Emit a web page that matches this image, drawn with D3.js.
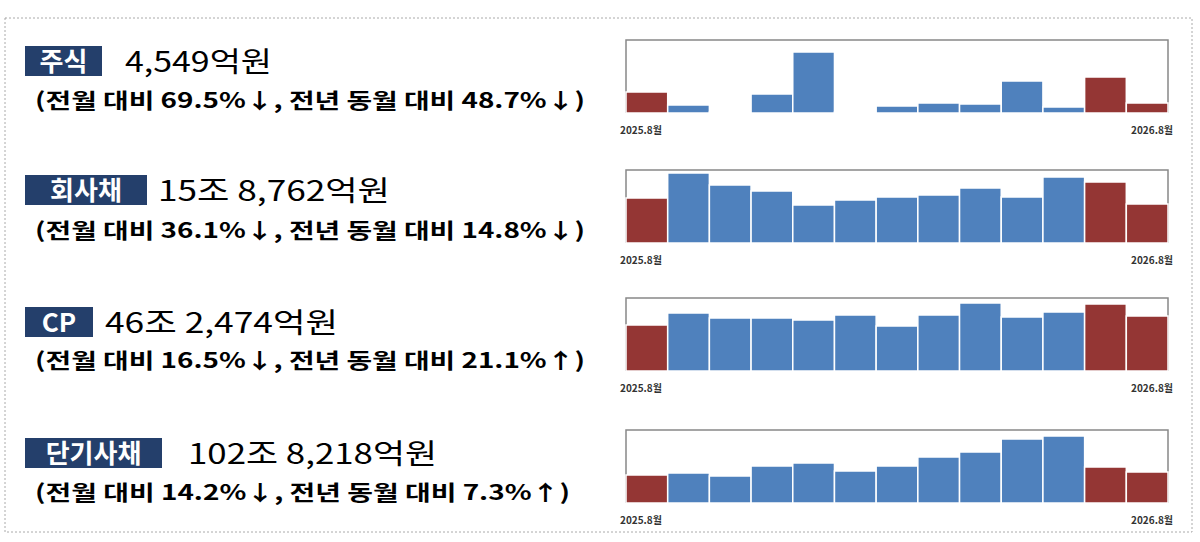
<!DOCTYPE html><html><head><meta charset="utf-8"><script src="https://cdn.jsdelivr.net/npm/d3@7"></script>
<style>body{margin:0;background:#fff}</style></head><body><svg id="c" width="1200" height="542"></svg><script>
const months=["2025.8","2025.9","2025.10","2025.11","2025.12","2026.1","2026.2","2026.3","2026.4","2026.5","2026.6","2026.7","2026.8"];
const tickLabels=["2025.8월","2026.8월"];
const names=["주식","회사채","CP","단기사채"];
const amounts=["4,549억원","15조 8,762억원","46조 2,474억원","102조 8,218억원"];
const notes=["(전월 대비 69.5%↓, 전년 동월 대비 48.7%↓)","(전월 대비 36.1%↓, 전년 동월 대비 14.8%↓)","(전월 대비 16.5%↓, 전년 동월 대비 21.1%↑)","(전월 대비 14.2%↓, 전년 동월 대비 7.3%↑)"];
const stock=[21,8,1,19,61,1,7,10,9,32,6,36,10];
const bond=[45,70,58,52,38,43,46,48,55,46,66,61,39];
const cp=[46,58,53,53,51,56,45,56,68,54,59,67,55];
const stb=[28,30,27,37,40,32,37,46,51,64,67,36,31];
const series=[stock,bond,cp,stb];
const highlight=[0,11,12];
const svg=d3.select("#c");
svg.append("rect").attr("x",5).attr("y",18).attr("width",1187).attr("height",514).attr("fill","none").attr("stroke","#aaa").attr("stroke-dasharray","2,2");
const rows=[{top:40,boxY:46,boxW:77,numX:125,numW:147,noteY:108,noteW:550},{top:170,boxY:175,boxW:122,numX:158,numW:232,noteY:238,noteW:550},{top:298,boxY:307,boxW:68,numX:105,numW:233,noteY:368,noteW:550},{top:430,boxY:438,boxW:137,numX:188,numW:249,noteY:500,noteW:535}];
const H=73;
const x=d3.scaleBand().domain(months).range([626,1168]).padding(0);
rows.forEach((r,i)=>{
  const g=svg.append("g");
  g.append("rect").attr("x",25).attr("y",r.boxY).attr("width",r.boxW).attr("height",30).attr("fill","#243f6b");
  g.append("text").attr("x",25+r.boxW/2).attr("y",r.boxY+25).attr("text-anchor","middle").attr("fill","#fff").attr("font-family","Noto Sans CJK KR").attr("font-weight","bold").attr("font-size",26).text(names[i]);
  g.append("text").attr("x",r.numX).attr("y",r.boxY+26).attr("font-family","Noto Sans CJK KR").attr("font-size",28).attr("fill","#000").attr("textLength",r.numW).attr("lengthAdjust","spacingAndGlyphs").text(amounts[i]);
  g.append("text").attr("x",35).attr("y",r.noteY).attr("font-family","Noto Sans CJK KR").attr("font-weight","bold").attr("font-size",21).attr("fill","#000").attr("textLength",r.noteW).attr("lengthAdjust","spacingAndGlyphs").text(notes[i]);
  const y=d3.scaleLinear().domain([0,H]).range([r.top+H,r.top]);
  g.append("path").attr("d",`M626,${r.top+H}V${r.top}H1168V${r.top+H}`).attr("fill","none").attr("stroke","#888").attr("stroke-width",1.5);
  g.selectAll(".b").data(series[i]).join("rect").attr("x",(d,j)=>x(months[j])).attr("width",x.bandwidth()).attr("y",d=>y(d)).attr("height",d=>y(0)-y(d))
    .attr("fill",(d,j)=>highlight.includes(j)?"#943634":"#4f81bd").attr("stroke","#fff").attr("stroke-width",1.5);
  g.append("text").attr("x",620).attr("y",r.top+H+21).attr("font-family","Noto Sans CJK KR").attr("font-weight","bold").attr("font-size",10).attr("fill","#333").text(tickLabels[0]);
  g.append("text").attr("x",1173).attr("y",r.top+H+21).attr("text-anchor","end").attr("font-family","Noto Sans CJK KR").attr("font-weight","bold").attr("font-size",10).attr("fill","#333").text(tickLabels[1]);
});
</script></body></html>
